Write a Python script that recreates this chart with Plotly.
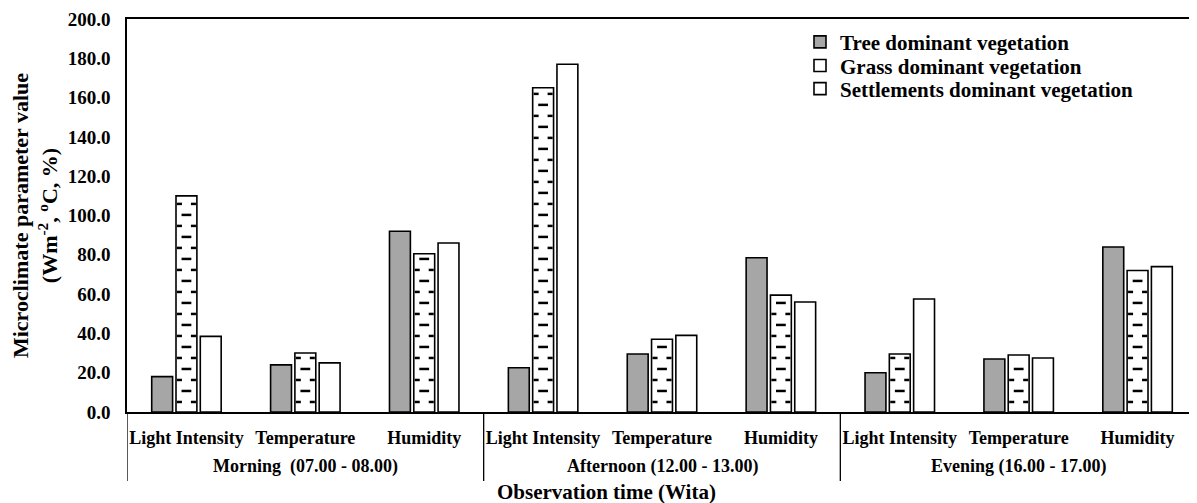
import plotly.graph_objects as go

# ---------------- data ----------------
params = ["Light Intensity", "Temperature", "Humidity"]
periods = ["Morning\u00a0\u00a0(07.00 - 08.00)", "Afternoon (12.00 - 13.00)", "Evening (16.00 - 17.00)"]
series_names = ["Tree dominant vegetation", "Grass dominant vegetation", "Settlements dominant vegetation"]
tree = [18.0, 24.0, 92.0, 22.5, 29.5, 78.5, 20.0, 27.0, 84.0]
grass = [110.0, 30.0, 80.5, 165.0, 37.0, 59.5, 29.5, 29.0, 72.0]
settle = [38.5, 25.0, 86.0, 177.0, 39.0, 56.0, 57.5, 27.5, 74.0]
y_ticks = [0, 20, 40, 60, 80, 100, 120, 140, 160, 180, 200]

FONT = "Liberation Serif, Times New Roman, Times, DejaVu Serif, serif"
n_cat = len(params) * len(periods)
xs = list(range(n_cat))
ticktext = [p for _ in periods for p in params]

fig = go.Figure()
fills = ["#A6A6A6", "white", "white"]
legend_ids = ["legend", "legend2", "legend3"]
for name, vals, fc, lg in zip(series_names, [tree, grass, settle], fills, legend_ids):
    fig.add_trace(go.Bar(
        x=xs, y=vals, name=name, legend=lg,
        marker=dict(color=fc, line=dict(color="black", width=1.6)),
    ))

# dashed-brick pattern on the grass bars (drawn from the data values)
DASH_BASE, DASH_STEP = 5.1, 5.6
PX_PER_UNIT = 1070 / n_cat
edge_off = 7.0 / PX_PER_UNIT
mid_x, mid_y, edge_x, edge_y = [], [], [], []
for i, v in enumerate(grass):
    k = 0
    while DASH_BASE + DASH_STEP * k < v - 1.5:
        yy = DASH_BASE + DASH_STEP * k
        if k % 2 == 0:
            edge_x += [i - edge_off, i + edge_off]
            edge_y += [yy, yy]
        else:
            mid_x.append(i)
            mid_y.append(yy)
        k += 1
fig.add_trace(go.Scatter(x=mid_x, y=mid_y, mode="markers", showlegend=False, hoverinfo="skip",
                         marker=dict(symbol="line-ew", size=7, line=dict(color="black", width=2.5))))
fig.add_trace(go.Scatter(x=edge_x, y=edge_y, mode="markers", showlegend=False, hoverinfo="skip",
                         marker=dict(symbol="line-ew", size=3.6, line=dict(color="black", width=2.5))))

# group separators below the axis
for g in range(len(periods)):
    xpos = g * len(params) - 0.5
    fig.add_shape(type="line", xref="x", yref="paper", x0=xpos, x1=xpos,
                  ysizemode="pixel", yanchor=0, y0=0, y1=-69,
                  line=dict(color="black", width=1.3))
    fig.add_annotation(x=g * len(params) + (len(params) - 1) / 2, xref="x", y=0, yref="paper",
                       yanchor="middle", yshift=-54, text=periods[g], showarrow=False,
                       font=dict(family=FONT, size=18, color="black", weight="bold"))

fig.add_annotation(x=(606 - 127) / 1070, xref="paper", y=0, yref="paper", yanchor="middle",
                   yshift=-80, text="Observation time (Wita)", showarrow=False,
                   font=dict(family=FONT, size=21, color="black", weight="bold"))

leg_font = dict(family=FONT, size=21, color="black", weight="bold")
leg_x = (800 - 127) / 1070
leg_common = dict(x=leg_x, xanchor="left", yanchor="top", bgcolor="rgba(0,0,0,0)",
                  font=leg_font, itemwidth=30)

# page body has an 8px margin, so the figure is sized/placed to fill the window
fig.update_layout(
    width=1189, height=495,
    margin=dict(l=119, r=0, t=11, b=91, autoexpand=False),
    paper_bgcolor="white", plot_bgcolor="white",
    barmode="group", bargap=0.387, bargroupgap=0.14,
    font=dict(family=FONT, color="black", weight="bold"),
    legend=dict(y=0.993, **leg_common),
    legend2=dict(y=0.933, **leg_common),
    legend3=dict(y=0.874, **leg_common),
    xaxis=dict(range=[-0.5, n_cat - 0.5], tickvals=xs, ticktext=ticktext, ticks="",
               showline=True, linecolor="black", linewidth=1.5, mirror=True, automargin=False,
               showgrid=False, zeroline=False, ticklabelstandoff=9,
               tickfont=dict(family=FONT, size=18, color="black", weight="bold")),
    yaxis=dict(range=[0, 200], tickvals=y_ticks, tickformat=".1f", ticks="", automargin=False,
               showline=True, linecolor="black", linewidth=1.5,
               showgrid=False, zeroline=False, ticklabelstandoff=11,
               tickfont=dict(family=FONT, size=19, color="black", weight="bold"),
               title=dict(text="Microclimate parameter value<br>(Wm<sup>-2</sup>, <sup>o</sup>C, %)",
                          font=dict(family=FONT, size=22, color="black", weight="bold"), standoff=4)),
)

fig.write_html("out.html")
